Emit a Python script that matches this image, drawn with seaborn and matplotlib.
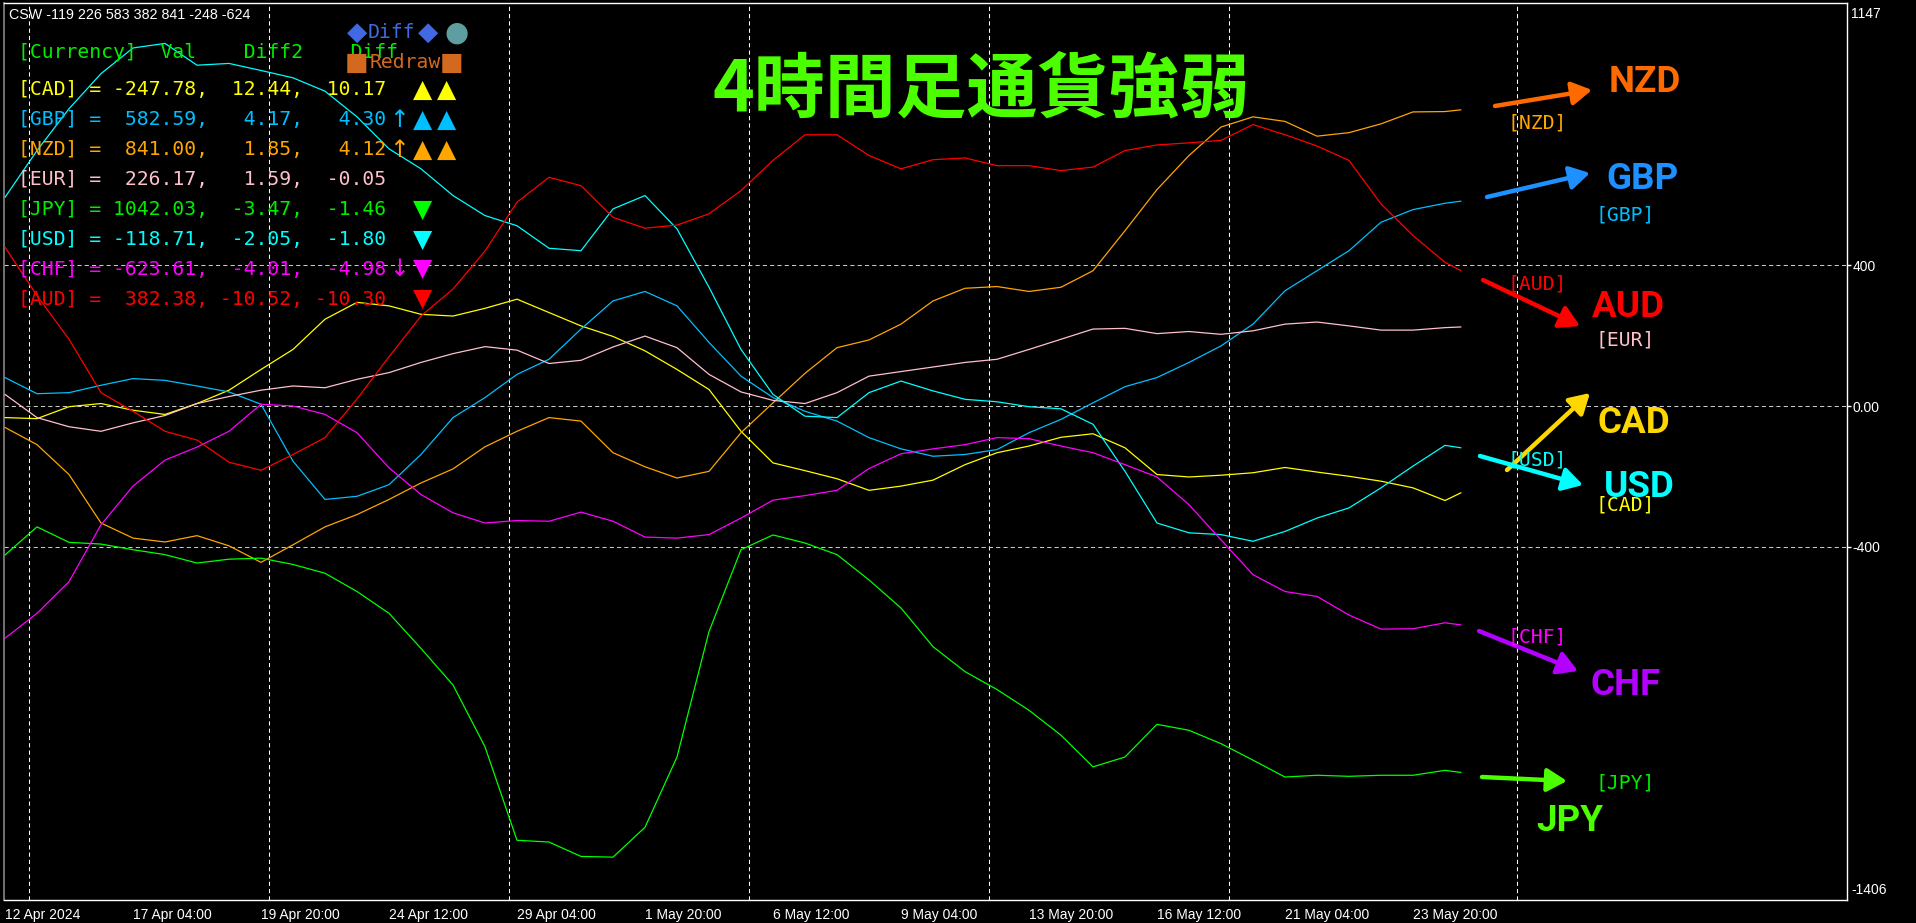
import matplotlib
matplotlib.use('Agg')
import matplotlib.pyplot as plt
import seaborn as sns
import pandas as pd

W, H = 1916, 923

# 4h bar index of every sampled point (bar 0 = 12 Apr 2024 12:00)
bars = list(range(0, 181, 4)) + [182]

cad = [-33, -36, -2, 7, -12, -24, 7, 45, 104, 161, 247, 295, 285, 261, 256, 278,
       304, 266, 228, 198, 157, 104, 47, -72, -162, -184, -207, -240, -228, -211, -167,
       -133, -114, -89, -79, -119, -195, -202, -197, -190, -175, -188, -200, -214, -233, -269,
       -247]
gbp = [81, 35, 38, 59, 78, 73, 57, 40, 5, -157, -266, -257, -224, -138, -33, 24,
       90, 133, 219, 299, 326, 285, 181, 85, 24, -15, -43, -90, -122, -143, -138,
       -124, -76, -38, 9, 55, 81, 124, 171, 233, 328, 385, 442, 523, 559, 577,
       583]
nzd = [-61, -110, -195, -333, -376, -387, -369, -398, -445, -395, -344, -309, -266, -219, -179, -116,
       -72, -33, -43, -133, -173, -205, -186, -76, 9, 93, 166, 188, 233, 299, 335,
       340, 326, 338, 385, 499, 616, 713, 794, 823, 810, 768, 778, 803, 837, 838,
       843]
eur = [33, -33, -59, -72, -48, -27, 7, 27, 45, 57, 52, 76, 95, 124, 149, 169,
       159, 121, 130, 168, 199, 166, 90, 40, 16, 7, 38, 85, 98, 111, 124,
       133, 161, 190, 219, 221, 206, 212, 204, 214, 233, 239, 228, 216, 216, 223,
       225]
jpy = [-424, -344, -388, -393, -409, -423, -447, -436, -433, -451, -476, -528, -590, -690, -794, -970,
       -1236, -1241, -1282, -1284, -1199, -999, -642, -409, -367, -390, -423, -495, -575, -685, -756,
       -807, -866, -937, -1027, -999, -906, -923, -961, -1008, -1056, -1051, -1054, -1051, -1051, -1037,
       -1043]
usd = [594, 727, 846, 946, 1019, 1032, 970, 975, 955, 934, 896, 823, 732, 675, 599, 542,
       513, 449, 442, 561, 599, 504, 338, 161, 33, -29, -33, 38, 71, 43, 19,
       12, -2, -8, -52, -186, -333, -361, -366, -385, -357, -319, -290, -233, -171, -112,
       -119]
chf = [-661, -590, -500, -338, -228, -154, -117, -72, 5, 0, -24, -76, -176, -252, -304, -333,
       -326, -328, -302, -328, -373, -376, -366, -319, -268, -255, -240, -178, -136, -122, -110,
       -90, -93, -114, -133, -167, -202, -281, -381, -480, -528, -542, -595, -635, -634, -617,
       -623]
aud = [452, 314, 190, 38, -15, -72, -97, -160, -183, -138, -90, 20, 140, 256, 333, 441,
       580, 651, 627, 537, 506, 515, 547, 613, 699, 772, 772, 713, 675, 701, 706,
       684, 684, 670, 680, 727, 743, 749, 756, 801, 772, 740, 699, 575, 485, 409,
       385]

currencies = ['CAD', 'GBP', 'NZD', 'EUR', 'JPY', 'USD', 'CHF', 'AUD']
series = [cad, gbp, nzd, eur, jpy, usd, chf, aud]
line_colors = {'CAD': '#ffff00', 'GBP': '#00bfff', 'NZD': '#ffa500', 'EUR': '#ffc0cb',
               'JPY': '#00ff00', 'USD': '#00ffff', 'CHF': '#ff00ff', 'AUD': '#ff0000'}

tick_bars = list(range(0, 177, 16))
tick_labels = ['12 Apr 2024', '17 Apr 04:00', '19 Apr 20:00', '24 Apr 12:00',
               '29 Apr 04:00', '1 May 20:00', '6 May 12:00', '9 May 04:00',
               '13 May 20:00', '16 May 12:00', '21 May 04:00', '23 May 20:00']
week_bars = [3, 33, 63, 93, 123, 153, 189]
y_ticks = [400, 0, -400]
y_tick_labels = ['400', '0.00', '-400']
y_min, y_max = -1406, 1147

# info panel
csw_values = [-119, 226, 583, 382, 841, -248, -624]
table_val = [-247.78, 582.59, 841.00, 226.17, 1042.03, -118.71, -623.61, 382.38]
table_diff2 = [12.44, 4.17, 1.85, 1.59, -3.47, -2.05, -4.01, -10.52]
table_diff = [10.17, 4.30, 4.12, -0.05, -1.46, -1.80, -4.98, -10.30]
table_arrow = ['', '↑', '↑', '', '', '', '↓', '']
table_marks = ['▲▲', '▲▲', '▲▲', '', '▼', '▼', '▼', '▼']
text_colors = {'CAD': '#ffff00', 'GBP': '#00bfff', 'NZD': '#ffa500', 'EUR': '#ffc0cb',
               'JPY': '#00ee00', 'USD': '#00ffff', 'CHF': '#ff00ff', 'AUD': '#ff0000'}

# ranking on the right
rank_names = ['NZD', 'GBP', 'AUD', 'CAD', 'USD', 'CHF', 'JPY']
rank_colors = ['#ff6a00', '#1e90ff', '#ff0000', '#ffd700', '#00ffff', '#b400ff', '#4cff00']
small_tags = ['NZD', 'GBP', 'AUD', 'EUR', 'USD', 'CAD', 'CHF', 'JPY']

rows = []
for cur, vals in zip(currencies, series):
    for b, v in zip(bars, vals):
        rows.append({'bar': b, 'value': v, 'currency': cur})
df = pd.DataFrame(rows)

sns.set_theme(style='dark', rc={'axes.facecolor': 'black', 'figure.facecolor': 'black',
                                'savefig.facecolor': 'black'})
plt.rcParams['font.family'] = ['Liberation Sans', 'DejaVu Sans', 'Noto Sans CJK JP']

fig = plt.figure(figsize=(W / 100, H / 100), dpi=100)
ax = fig.add_axes([4 / W, 23 / H, 1843 / W, 897 / H])

sns.lineplot(data=df, x='bar', y='value', hue='currency', palette=line_colors,
             linewidth=0.9, legend=False, estimator=None, ax=ax, zorder=3)

ax.set_xlim(-0.125, 230.25)
ax.set_ylim(y_min, y_max)
ax.set_xlabel('')
ax.set_ylabel('')

# grid
grid_dash = (0, (4, 3))
for wb in week_bars:
    ax.axvline(wb, color='white', lw=0.75, ls=grid_dash, zorder=1)
for yt in y_ticks:
    ax.axhline(yt, color='#c8c8c8', lw=0.75, ls=grid_dash, zorder=1)

# axes frame
for side in ['top', 'right', 'bottom']:
    ax.spines[side].set_color('white')
    ax.spines[side].set_linewidth(1)
ax.spines['left'].set_color('#808080')

ax.set_xticks(tick_bars)
ax.set_xticklabels(tick_labels, ha='left')
ax.tick_params(axis='x', colors='white', length=4, width=1, pad=2, labelsize=10)
ax.yaxis.tick_right()
ax.set_yticks(y_ticks)
ax.set_yticklabels(y_tick_labels)
ax.tick_params(axis='y', colors='white', length=3, width=1, pad=1, labelsize=10)
ax.annotate(str(y_max), xy=(1, y_max), xycoords=('axes fraction', 'data'),
            xytext=(4, -4), textcoords='offset pixels', va='top', ha='left',
            color='white', fontsize=10, annotation_clip=False)
ax.annotate(str(y_min), xy=(1, y_min), xycoords=('axes fraction', 'data'),
            xytext=(4, 3), textcoords='offset pixels', va='bottom', ha='left',
            color='white', fontsize=10, annotation_clip=False)


def fx(x):
    return x / W


def fy(y):
    return 1 - y / H


mono = 'DejaVu Sans Mono'
mono_size = 14.2

fig.text(fx(9), fy(15), 'CSW ' + ' '.join(str(v) for v in csw_values),
         color='white', fontsize=10.3, va='center', ha='left')

# title
fig.text(fx(981), fy(91), '4時間足通貨強弱', fontsize=51, fontweight='bold',
         color='#4cff00', family=['Noto Sans CJK JP', 'DejaVu Sans'],
         ha='center', va='center')

# table header and legend symbols
fig.text(fx(18), fy(52), '[Currency]  Val    Diff2    Diff', family=mono,
         fontsize=mono_size, color='#00ee00', va='center', ha='left')
fig.text(fx(357), fy(33), '◆', family='DejaVu Sans', fontsize=19, color='#4169e1',
         ha='center', va='center')
fig.text(fx(368), fy(33), 'Diff', family=mono, fontsize=mono_size, color='#4169e1',
         ha='left', va='center')
fig.text(fx(428), fy(33), '◆', family='DejaVu Sans', fontsize=19, color='#4169e1',
         ha='center', va='center')
fig.text(fx(457), fy(33), '●', family='DejaVu Sans', fontsize=20, color='#5f9ea0',
         ha='center', va='center')
fig.text(fx(357), fy(63), '■', family='DejaVu Sans', fontsize=18, color='#d2691e',
         ha='center', va='center')
fig.text(fx(370), fy(63), 'Redraw', family=mono, fontsize=mono_size, color='#d2691e',
         ha='left', va='center')
fig.text(fx(452), fy(63), '■', family='DejaVu Sans', fontsize=18, color='#d2691e',
         ha='center', va='center')

for i, cur in enumerate(currencies):
    yc = 90 + 29.9 * i
    col = text_colors[cur]
    row = f'[{cur}] = {table_val[i]:7.2f}, {table_diff2[i]:6.2f}, {table_diff[i]:6.2f}'
    fig.text(fx(18), fy(yc), row, family=mono, fontsize=mono_size, color=col,
             va='center', ha='left')
    if table_arrow[i]:
        fig.text(fx(399), fy(yc), table_arrow[i], family='DejaVu Sans', fontsize=17,
                 color=col, va='center', ha='center')
    mark_col = '#00ff00' if cur == 'JPY' else col
    for j, m in enumerate(table_marks[i]):
        fig.text(fx(423 + 24 * j), fy(yc), m, family='DejaVu Sans', fontsize=18,
                 color=mark_col, va='center', ha='center')

# ranking arrows and labels on the right
arrow_tail = [(1495, 106), (1487, 197), (1483, 280), (1507, 470), (1480, 456), (1479, 631), (1482, 777)]
arrow_head = [(1592, 90), (1590, 173), (1580, 326), (1590, 393), (1583, 485), (1578, 671), (1567, 781)]
label_pos = [(1645, 82), (1642, 179), (1628, 307), (1634, 423), (1639, 487), (1626, 685), (1570, 821)]
for name, c, t, h, lp in zip(rank_names, rank_colors, arrow_tail, arrow_head, label_pos):
    ax.annotate('', xy=(h[0], H - h[1]), xytext=(t[0], H - t[1]),
                xycoords='figure pixels', textcoords='figure pixels',
                arrowprops=dict(arrowstyle='-|>,head_length=0.6,head_width=0.35',
                                mutation_scale=20, lw=3.2, color=c,
                                shrinkA=0, shrinkB=0),
                annotation_clip=False, zorder=5)
    fig.text(fx(lp[0]), fy(lp[1]), name, family='Roboto', fontweight='bold',
             fontsize=26.5, color=c, ha='center', va='center', zorder=6)

tag_pos = [(1507, 123), (1595, 215), (1507, 284), (1595, 340), (1507, 460),
           (1595, 505), (1507, 637), (1595, 783)]
for tag, tp in zip(small_tags, tag_pos):
    fig.text(fx(tp[0]), fy(tp[1]), f'[{tag}]', family=mono, fontsize=mono_size,
             color=text_colors[tag], ha='left', va='center', zorder=7)

fig.savefig('out.png', dpi=100, facecolor='black')
